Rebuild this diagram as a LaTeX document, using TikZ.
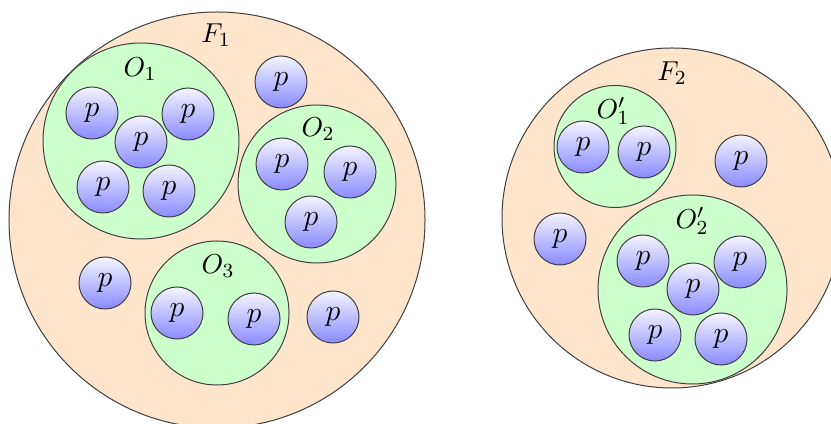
\documentclass[tikz,border=0pt]{standalone}
\usetikzlibrary{positioning}
\tikzset{
  region/.style={circle, draw=black!75, line width=0.4pt, inner sep=0pt, minimum size=#1*0.8pt},
  fam/.style={region=#1, fill=orange!20},
  org/.style={region=#1, fill=green!20},
  ball/.style={circle, draw=black!75, line width=0.4pt, inner sep=0pt, minimum size=20.8pt,
    top color=blue!4, bottom color=blue!46, font=\large},
  lbl/.style={inner sep=0pt, font=\fontsize{11}{13}\selectfont}
}
\begin{document}
\begin{tikzpicture}[x=0.4pt, y=-0.4pt]
\useasboundingbox (0,0) rectangle (831,424);
\clip (0,0) rectangle (831,424);
% family 1
\node[fam=208] (F1) at (217,220) {};
\node[lbl] (F1l) at (216,35) {$F_1$};
\node[org=98] (O1) at (141,141) {};
\node[lbl] (O1l) at (140,69) {$O_1$};
\node[org=79] (O2) at (317,184) {};
\node[lbl] (O2l) at (318,129) {$O_2$};
\node[org=72] (O3) at (217,313) {};
\node[lbl] (O3l) at (218,266) {$O_3$};
\node[ball] (p1) at (92,113) {$p$};
\node[ball] (p2) at (188,114) {$p$};
\node[ball] (p3) at (141,142) {$p$};
\node[ball] (p4) at (103,187) {$p$};
\node[ball] (p5) at (169,191) {$p$};
\node[ball] (p6) at (281,82) {$p$};
\node[ball] (p7) at (282,164) {$p$};
\node[ball] (p8) at (350,172) {$p$};
\node[ball] (p9) at (311,222) {$p$};
\node[ball] (p10) at (177,313) {$p$};
\node[ball] (p11) at (254,319) {$p$};
\node[ball] (p12) at (105,283) {$p$};
\node[ball] (p13) at (333,317) {$p$};
% family 2
\node[fam=170] (F2) at (672,218) {};
\node[lbl] (F2l) at (672,73) {$F_2$};
\node[org=61] (Q1) at (615,146.5) {};
\node[lbl] (Q1l) at (613,111) {$O'_1$};
\node[org=94.5] (Q2) at (692.5,289.5) {};
\node[lbl] (Q2l) at (692,221) {$O'_2$};
\node[ball] (q1) at (583,147) {$p$};
\node[ball] (q2) at (644,152) {$p$};
\node[ball] (q3) at (741,161) {$p$};
\node[ball] (q4) at (560,239) {$p$};
\node[ball] (q5) at (643,261) {$p$};
\node[ball] (q6) at (740,262) {$p$};
\node[ball] (q7) at (693,289) {$p$};
\node[ball] (q8) at (655,335) {$p$};
\node[ball] (q9) at (721,339) {$p$};
\end{tikzpicture}
\end{document}
